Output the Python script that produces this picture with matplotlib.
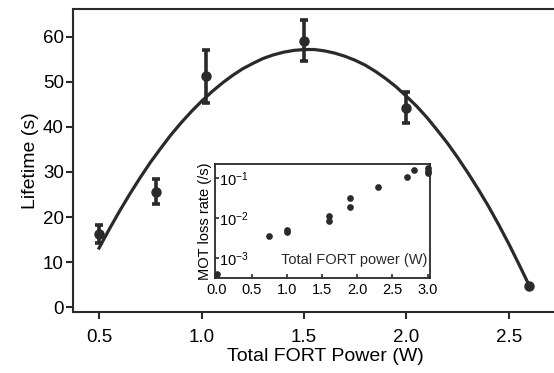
import numpy as np
import matplotlib
matplotlib.use("Agg")
import matplotlib.pyplot as plt
from matplotlib.ticker import FixedLocator, NullLocator

plt.rcParams['font.family'] = ['Liberation Sans', 'DejaVu Sans']
plt.rcParams['mathtext.default'] = 'regular'

# main panel: lifetime vs total FORT power
power = [0.5, 0.78, 1.02, 1.5, 2.0, 2.6]
lifetime = [16.2, 25.6, 51.3, 59.2, 44.3, 4.7]
lifetime_err = [2.0, 2.75, 5.9, 4.5, 3.5, 0.0]

# fitted curve
fit_power = [0.50, 0.55, 0.60, 0.65, 0.70, 0.75, 0.80, 0.85, 0.90, 0.95,
             1.00, 1.05, 1.10, 1.15, 1.20, 1.25, 1.30, 1.35, 1.40, 1.45,
             1.50, 1.55, 1.60, 1.65, 1.70, 1.75, 1.80, 1.85, 1.90, 1.95,
             2.00, 2.05, 2.10, 2.15, 2.20, 2.25, 2.30, 2.35, 2.40, 2.45,
             2.50, 2.55, 2.60]
fit_lifetime = [13.1, 17.3, 21.3, 25.1, 28.7, 32.1, 35.2, 38.2, 40.9, 43.4,
                45.7, 47.8, 49.7, 51.4, 52.9, 54.1, 55.2, 56.0, 56.6, 57.0,
                57.2, 57.2, 56.9, 56.4, 55.7, 54.8, 53.7, 52.3, 50.7, 48.9,
                46.8, 44.6, 42.1, 39.3, 36.4, 33.2, 29.8, 26.2, 22.4, 18.3,
                14.0, 9.4, 4.7]

# inset: MOT loss rate vs power
inset_power = [0.0, 0.75, 1.0, 1.0, 1.6, 1.6, 1.9, 1.9, 2.3, 2.7, 2.8, 3.0, 3.0, 3.0]
inset_rate = [4.1e-4, 3.6e-3, 5.1e-3, 4.5e-3, 1.17e-2, 8.7e-3, 3.2e-2, 1.95e-2,
              6.2e-2, 1.1e-1, 1.62e-1, 1.78e-1, 1.51e-1, 1.38e-1]

dark = '#2a2a2a'

fig = plt.figure(figsize=(5.54, 3.73), dpi=100)
ax = fig.add_axes([0.1318, 0.1635, 0.8682, 0.8124])

ax.plot(fit_power, fit_lifetime, color=dark, lw=2.3, zorder=2)
ax.errorbar(power, lifetime, yerr=lifetime_err, fmt='o', color=dark, ms=6.5,
            elinewidth=2.6, capsize=3.2, capthick=2.6, zorder=3)

ax.set_xlim(0.373, 2.72)
ax.set_ylim(-1.1, 66.2)
ax.set_xticks([0.5, 1.0, 1.5, 2.0, 2.5])
ax.set_yticks([0, 10, 20, 30, 40, 50, 60])
ax.set_xticklabels(['0.5', '1.0', '1.5', '2.0', '2.5'])
ax.spines['right'].set_visible(False)
for s in ['left', 'bottom', 'top']:
    ax.spines[s].set_linewidth(1.5)
    ax.spines[s].set_color(dark)
ax.tick_params(axis='x', direction='out', length=5, width=1.5, color=dark,
               labelsize=13.5, pad=7.5)
ax.tick_params(axis='y', direction='out', length=5, width=1.5, color=dark,
               labelsize=13.5, pad=1.5)
ax.set_xlabel('Total FORT Power (W)', fontsize=14, labelpad=1)
ax.xaxis.set_label_coords(0.524, -0.12)
ax.set_ylabel('Lifetime (s)', fontsize=14, labelpad=3)

# inset
ins = fig.add_axes([0.388, 0.2555, 0.389, 0.304])
ins.plot(inset_power, inset_rate, 'o', color=dark, ms=3.8, clip_on=False)
ins.set_yscale('log')
ins.set_xlim(-0.024, 3.04)
ins.set_ylim(10 ** -3.48, 10 ** -0.65)
ins.set_xticks([0.0, 0.5, 1.0, 1.5, 2.0, 2.5, 3.0])
ins.set_xticklabels(['0.0', '0.5', '1.0', '1.5', '2.0', '2.5', '3.0'])
ins.yaxis.set_major_locator(FixedLocator([1e-3, 1e-2, 1e-1]))
ins.yaxis.set_minor_locator(NullLocator())
ins.set_yticklabels(['$10^{-3}$', '$10^{-2}$', '$10^{-1}$'])
for s in ins.spines.values():
    s.set_linewidth(1.3)
    s.set_color(dark)
ins.tick_params(axis='x', direction='in', length=3, width=1.2, color=dark,
                labelsize=10.5, pad=3.5)
ins.tick_params(axis='y', direction='in', length=3, width=1.2, color=dark,
                labelsize=10.5, pad=-3)
plt.setp(ins.get_yticklabels(), ha='left')
ins.set_ylabel('MOT loss rate (/s)', fontsize=10.5, labelpad=2)
ins.text(0.985, 0.155, 'Total FORT power (W)', transform=ins.transAxes,
         ha='right', va='center', fontsize=10.5, color=dark)

fig.savefig('out.png', dpi=100)
